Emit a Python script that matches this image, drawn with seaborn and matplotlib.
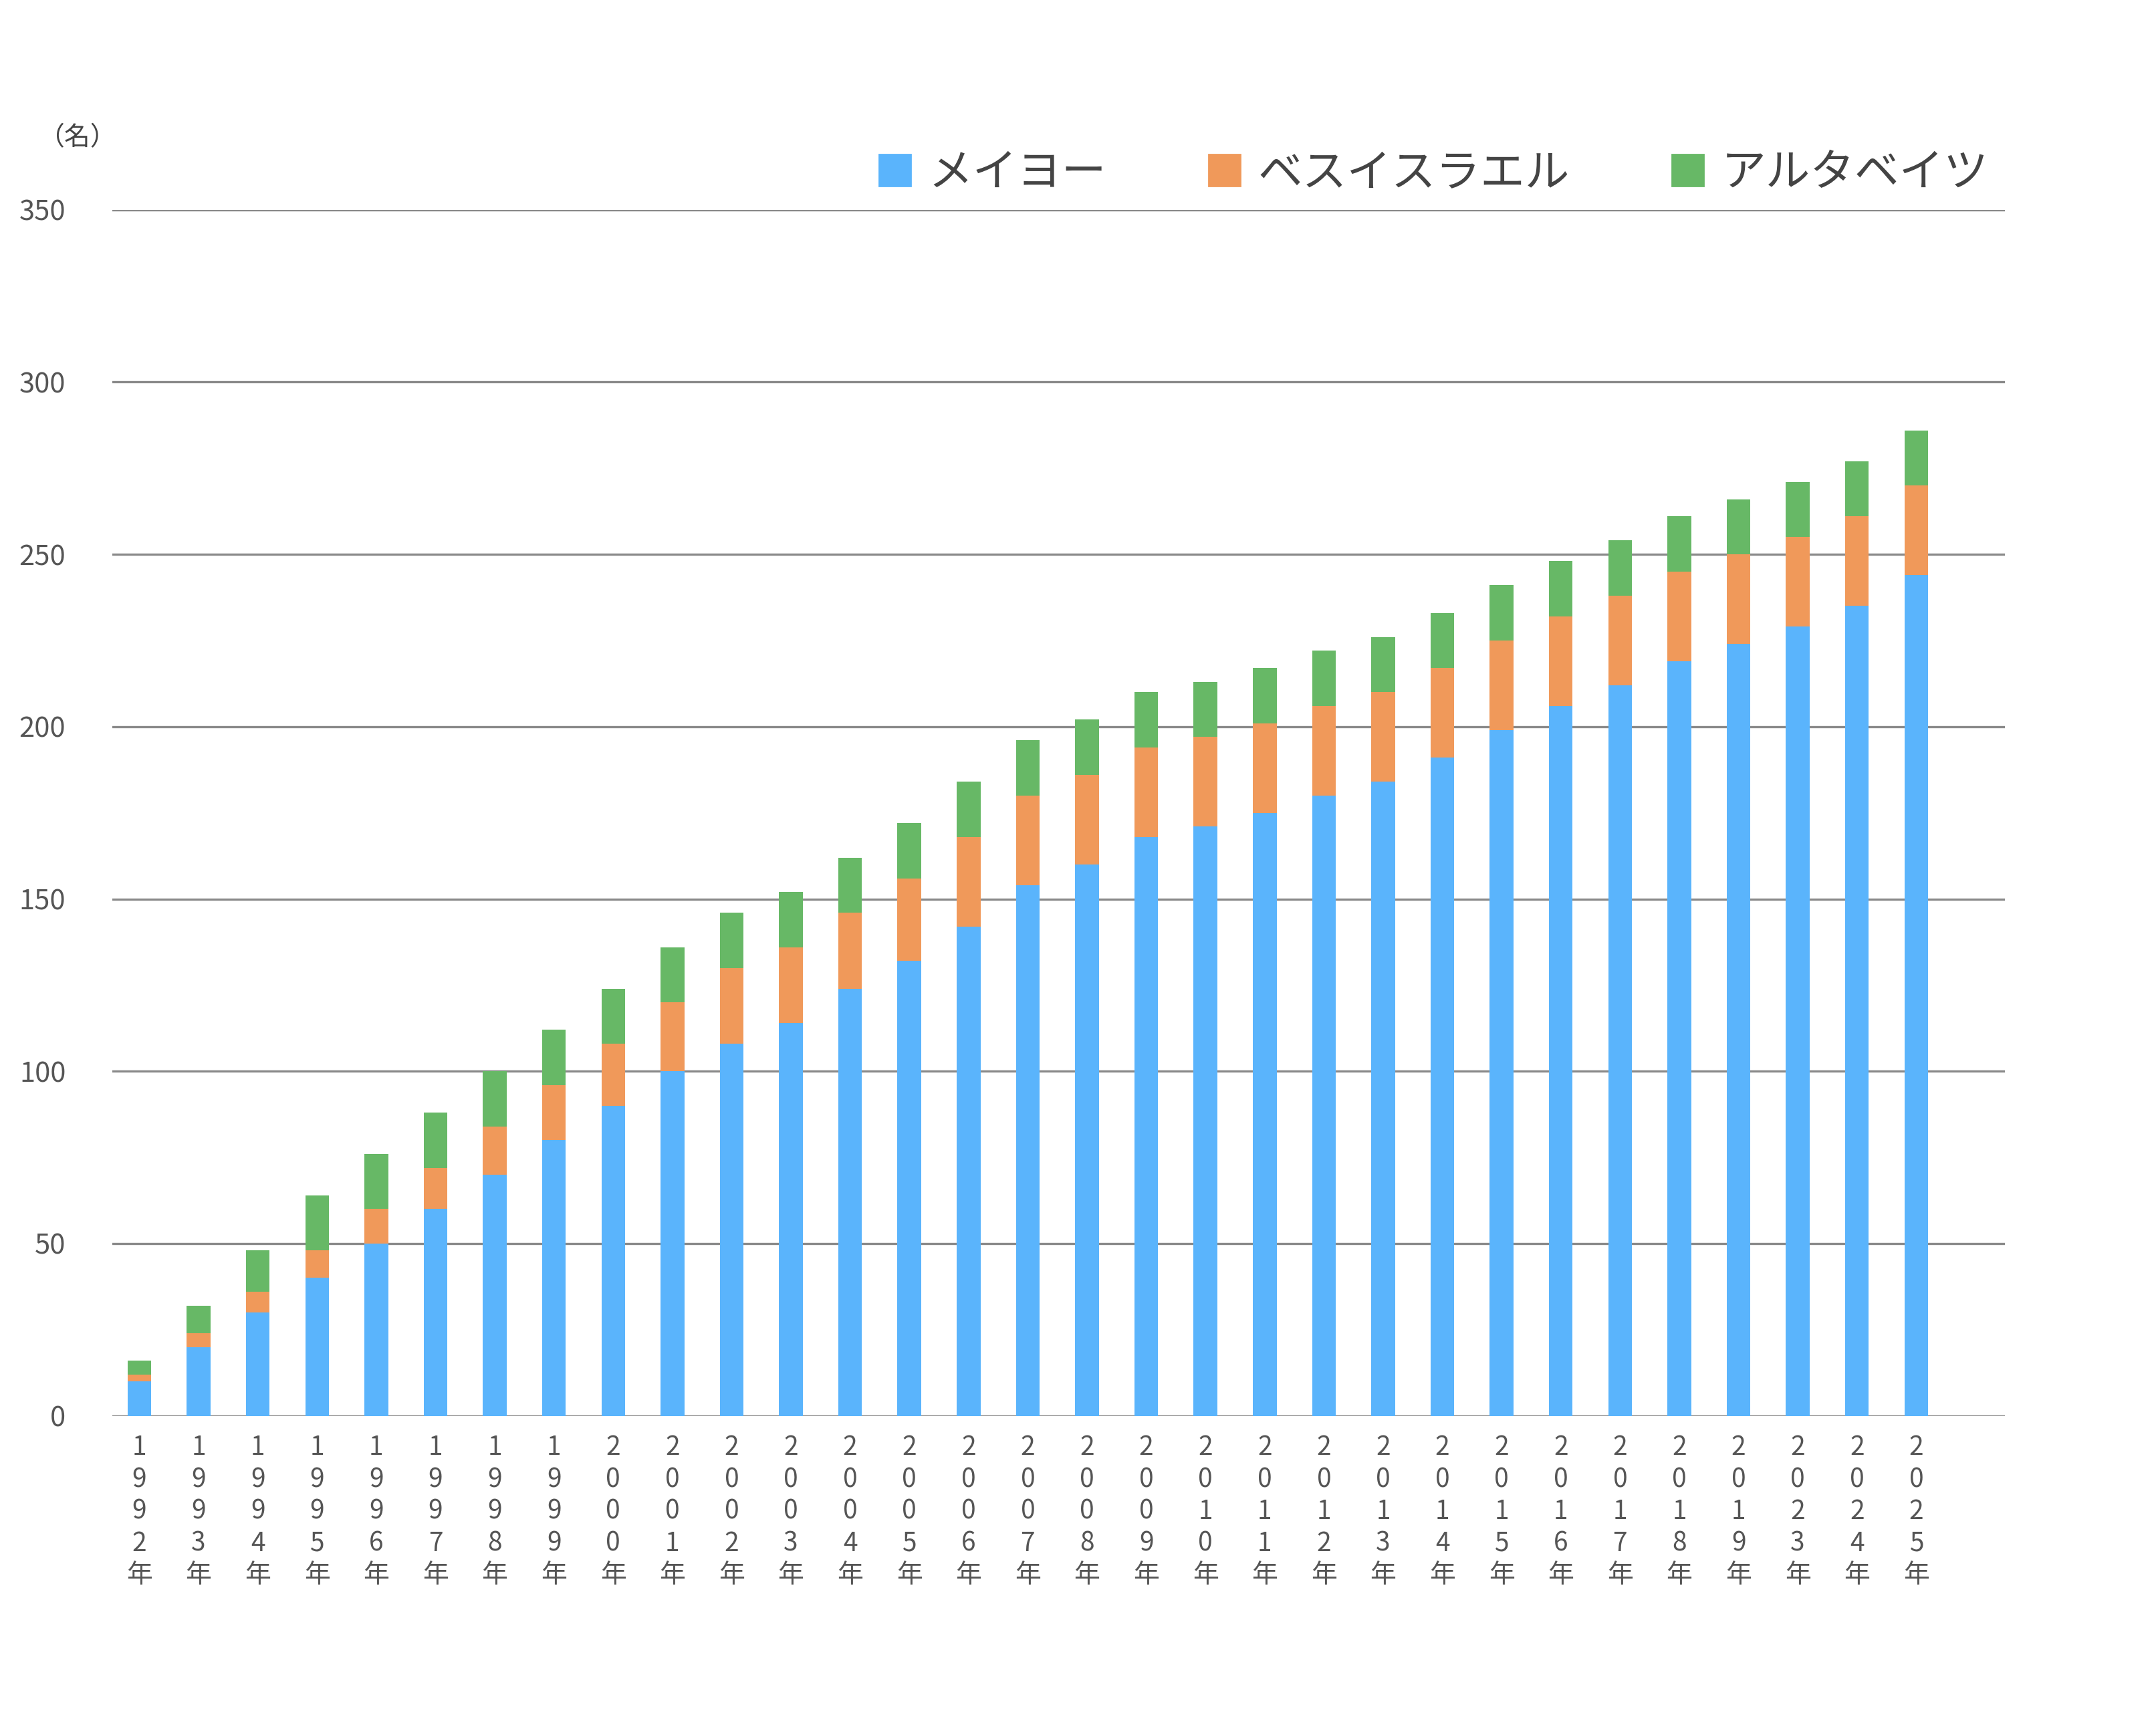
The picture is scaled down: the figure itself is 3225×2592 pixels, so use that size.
import matplotlib
matplotlib.use("Agg")
import matplotlib.pyplot as plt
import seaborn as sns
import pandas as pd
from matplotlib.patches import Patch

plt.rcParams["font.family"] = "Noto Sans CJK JP"

years = [str(y) for y in list(range(1992, 2020)) + [2023, 2024, 2025]]
mayo = [10,20,30,40,50,60,70,80,90,100,108,114,124,132,142,154,160,168,171,175,180,184,191,199,206,212,219,224,229,235,244]
beth = [2,4,6,8,10,12,14,16,18,20,22,22,22,24,26,26,26,26,26,26,26,26,26,26,26,26,26,26,26,26,26]
alta = [4,8,12,16,16,16,16,16,16,16,16,16,16,16,16,16,16,16,16,16,16,16,16,16,16,16,16,16,16,16,16]
labels = ["メイヨー", "ベスイスラエル", "アルタベイツ"]
colors = ["#5AB4FC", "#F0995A", "#67B866"]

xlabels = ["\n".join(list(y)) + "\n年" for y in years]
df = pd.DataFrame({"year": xlabels, "m": mayo,
                   "mb": [a + b for a, b in zip(mayo, beth)],
                   "mba": [a + b + c for a, b, c in zip(mayo, beth, alta)]})

fig = plt.figure(figsize=(16.125, 12.96), dpi=200)
ax = fig.add_axes([0.052, 0.183, 0.878, 0.696])
for col, c in zip(["mba", "mb", "m"], colors[::-1]):
    sns.barplot(data=df, x="year", y=col, color=c, width=0.4, ax=ax, saturation=1, zorder=3)

ax.set_ylim(0, 350)
ax.set_yticks(range(0, 351, 50))
ax.grid(axis="y", color="#8a8a8a", lw=1.2, zorder=0)
ax.set_axisbelow(True)
for s in ax.spines.values():
    s.set_visible(False)
ax.set_xlabel(""); ax.set_ylabel("")
ax.tick_params(axis="both", length=0, labelsize=14, colors="#555555")
ax.tick_params(axis="y", labelsize=15, pad=25)
ax.tick_params(axis="x", pad=10)
for t in ax.get_xticklabels():
    t.set_linespacing(1.25)
ax.set_xlim(-0.46, 31.5)

fig.text(0.018, 0.916, "（名）", fontsize=14, color="#444444")
handles = [Patch(color=c) for c in colors]
fig.legend(handles, labels, loc="center", bbox_to_anchor=(0.665, 0.9), ncol=3,
           frameon=False, fontsize=24, handlelength=0.7, handleheight=0.7,
           columnspacing=2.3, handletextpad=0.4, labelcolor="#444444")

fig.savefig("out.png", dpi=200)
